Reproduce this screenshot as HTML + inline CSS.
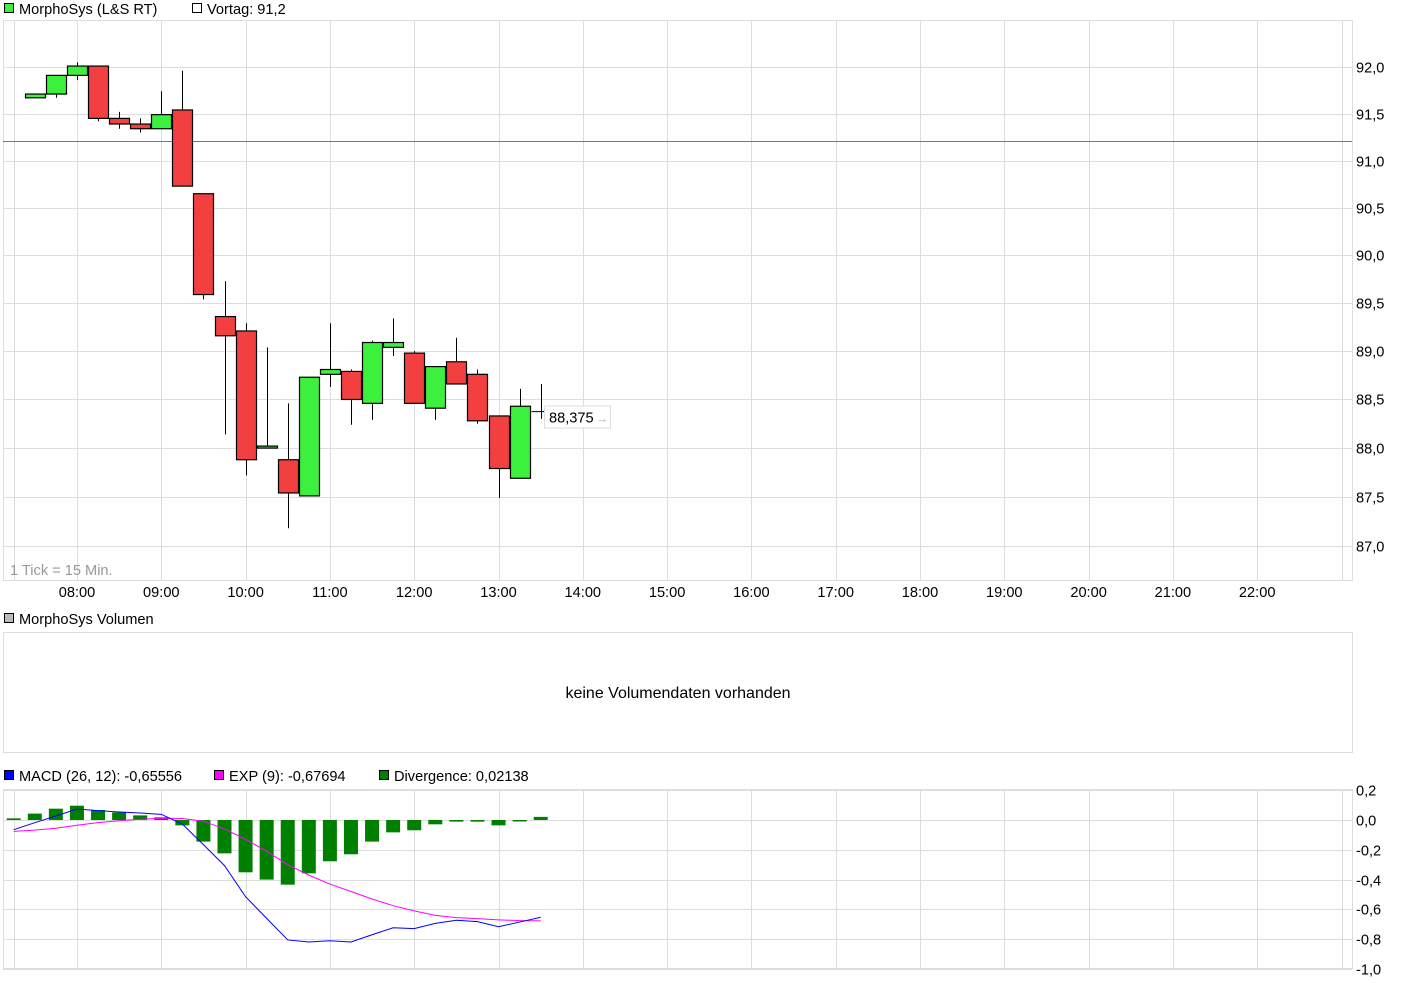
<!DOCTYPE html>
<html><head><meta charset="utf-8">
<style>
html,body{margin:0;padding:0;background:#fff;}
svg{display:block;font-family:"Liberation Sans",Arial,sans-serif;}
</style></head>
<body>
<svg id="chart" width="1410" height="983" viewBox="0 0 1410 983" xmlns="http://www.w3.org/2000/svg">
  <g id="legend-main">
    <rect x="4.5" y="3.5" width="9" height="9" fill="#3ef03e" stroke="#000"/>
    <text x="19" y="14" font-size="14.6">MorphoSys (L&amp;S RT)</text>
    <rect x="192.5" y="3.5" width="9" height="9" fill="#fff" stroke="#000"/>
    <text x="207" y="14" font-size="14.6">Vortag: 91,2</text>
  </g>
  <g id="main"></g>
  <g id="vol">
    <rect x="4.5" y="613.5" width="9" height="9" fill="#bbb" stroke="#000"/>
    <text x="19" y="624" font-size="14.6">MorphoSys Volumen</text>
    <rect x="3.5" y="632.5" width="1349" height="120" fill="none" stroke="#ddd"/>
    <text x="678" y="698" font-size="16" text-anchor="middle">keine Volumendaten vorhanden</text>
  </g>
  <g id="macdLegend">
    <rect x="4.5" y="770.5" width="9" height="9" fill="#0000ff" stroke="#000"/>
    <text x="19" y="781" font-size="14.6">MACD (26, 12): -0,65556</text>
    <rect x="214.5" y="770.5" width="9" height="9" fill="#ff00ff" stroke="#000"/>
    <text x="229" y="781" font-size="14.6">EXP (9): -0,67694</text>
    <rect x="379.5" y="770.5" width="9" height="9" fill="#008000" stroke="#000"/>
    <text x="394" y="781" font-size="14.6">Divergence: 0,02138</text>
  </g>
  <g id="macd"></g>
</svg>
<script>
// ---- data ----
const hourLabels = ["08:00","09:00","10:00","11:00","12:00","13:00","14:00","15:00","16:00","17:00","18:00","19:00","20:00","21:00","22:00"];
const priceTicks = [92.0,91.5,91.0,90.5,90.0,89.5,89.0,88.5,88.0,87.5,87.0];
const candleOpen  = [91.67,91.71,91.91,92.01,91.45,91.39,91.34,91.54,90.65,89.36,89.21,88.00,87.88,87.51,88.76,88.79,88.46,89.04,88.98,88.41,88.89,88.76,88.33,87.69,88.375];
const candleClose = [91.71,91.91,92.01,91.45,91.39,91.34,91.49,90.73,89.59,89.16,87.88,88.02,87.54,88.73,88.81,88.50,89.09,89.09,88.46,88.84,88.66,88.28,87.79,88.43,88.375];
const candleHigh  = [91.71,91.91,92.05,92.01,91.52,91.45,91.74,91.96,90.65,89.73,89.29,89.04,88.46,88.73,89.29,88.81,89.11,89.34,89.00,88.84,89.14,88.81,88.33,88.61,88.66];
const candleLow   = [91.67,91.67,91.86,91.42,91.34,91.30,91.34,90.73,89.54,88.14,87.72,88.00,87.18,87.51,88.63,88.24,88.29,88.95,88.46,88.29,88.66,88.25,87.49,87.69,88.30];
const prevClose = 91.2;
const lastPrice = "88,375";
const macdTicks = [0.2,0.0,-0.2,-0.4,-0.6,-0.8,-1.0];
const macdTickLabels = ["0,2","0,0","-0,2","-0,4","-0,6","-0,8","-1,0"];
const divergence = [0.011,0.043,0.076,0.096,0.067,0.051,0.031,0.018,-0.036,-0.145,-0.224,-0.351,-0.40,-0.434,-0.358,-0.277,-0.230,-0.145,-0.083,-0.069,-0.029,-0.011,-0.011,-0.036,-0.003,0.021];
const macdLine = [-0.065,-0.018,0.027,0.074,0.063,0.054,0.047,0.038,-0.027,-0.165,-0.306,-0.515,-0.66,-0.805,-0.819,-0.810,-0.819,-0.77,-0.723,-0.729,-0.694,-0.673,-0.682,-0.716,-0.685,-0.653];
const expLine = [-0.076,-0.068,-0.055,-0.035,-0.018,-0.005,0.005,0.012,0.010,-0.008,-0.06,-0.13,-0.21,-0.30,-0.37,-0.43,-0.48,-0.53,-0.575,-0.61,-0.64,-0.655,-0.662,-0.67,-0.675,-0.677];

// ---- scales ----
const NS="http://www.w3.org/2000/svg";
const X0=3, X1=1352;
const hourX = h => 77 + 84.3*h;
const slotX = i => 34.8 + 21.08*i;
const macdX = i => 13.7 + 21.08*i;
const lnTop=Math.log(92), lnBot=Math.log(87);
const priceY = p => 67 + (lnTop-Math.log(p))/(lnTop-lnBot)*479;
const macdY = v => 820 - v*149;
function mk(parent,tag,attrs){const e=document.createElementNS(NS,tag);for(const k in attrs)e.setAttribute(k,attrs[k]);parent.appendChild(e);return e;}

// ---- main panel ----
const main=document.getElementById('main');
const g1=mk(main,'g',{});


[-0.75,0,1,2,3,4,5,6,7,8,9,10,11,12,13,14,15].forEach(h=>{
  const x=Math.round(hourX(h))+0.5;
  const l=mk(g1,'line',{x1:x,x2:x,y1:20,y2:581,stroke:'#ddd'});
  
  
});
priceTicks.forEach((p,i)=>{
  const y=Math.round(priceY(p))+0.5;
  const l=mk(g1,'line',{x1:X0,x2:X1,y1:y,y2:y,stroke:'#ddd'});
  
  
  const t=mk(main,'text',{x:1356,y:y+5,'font-size':14.6});
  t.textContent=p.toFixed(1).replace('.',',');
  
  
});
const frame=mk(main,'rect',{x:3.5,y:20.5,width:1349,height:560,fill:'none',stroke:'#ddd'});


hourLabels.forEach((s,i)=>{
  const t=mk(main,'text',{x:hourX(i),y:597,'font-size':14.6,'text-anchor':'middle'});
  t.textContent=s;
  
  
});
const tick=mk(main,'text',{x:10,y:575,'font-size':14.6,fill:'#999'});
tick.textContent='1 Tick = 15 Min.';


const vy=Math.round(priceY(prevClose))-0.5;
const vl=mk(main,'line',{x1:X0,x2:X1,y1:vy,y2:vy,stroke:'#777'});


candleOpen.forEach((o,i)=>{
  const c=candleClose[i], cx=Math.round(slotX(i))+0.5;
  const g=mk(main,'g',{});
  
  
  mk(g,'line',{x1:cx,x2:cx,y1:priceY(candleHigh[i]),y2:priceY(candleLow[i]),stroke:'#000'});
  const top=priceY(Math.max(o,c)), bot=priceY(Math.min(o,c));
  if(Math.abs(o-c)<0.005){
    mk(g,'line',{x1:cx-10,x2:cx+10,y1:top,y2:top,stroke:'#000'});
  } else {
    mk(g,'rect',{x:cx-10,y:top,width:20,height:Math.max(bot-top,2),fill:c>=o?'#3ef03e':'#f24040',stroke:'#000','stroke-width':1.2});
  }
});
const ly=priceY(candleClose[candleClose.length-1])+6;
const lastG=mk(main,'g',{});


mk(lastG,'rect',{x:544.5,y:ly-11.5,width:66,height:22,fill:'#fff',stroke:'#ddd'});
const lt=mk(lastG,'text',{x:549,y:ly+5,'font-size':14.6});
lt.textContent=lastPrice;
mk(lastG,'text',{x:596,y:ly+5,'font-size':12,fill:'#aaa'}).textContent='→';

// ---- MACD panel ----
const macd=document.getElementById('macd');
const g2=mk(macd,'g',{});


[-0.75,0,1,2,3,4,5,6,7,8,9,10,11,12,13,14,15].forEach(h=>{
  const x=Math.round(hourX(h))+0.5;
  const l=mk(g2,'line',{x1:x,x2:x,y1:789,y2:968,stroke:'#ddd'});
  
  
});
macdTicks.forEach((v,i)=>{
  const y=Math.round(macdY(v))+0.5;
  const l=mk(g2,'line',{x1:X0,x2:X1,y1:y,y2:y,stroke:'#ddd'});
  
  
  const t=mk(macd,'text',{x:1356,y:y+5,'font-size':14.6});
  t.textContent=macdTickLabels[i];
  
  
});
const f2=mk(macd,'rect',{x:3.5,y:789.5,width:1349,height:179,fill:'none',stroke:'#ddd'});


divergence.forEach((v,i)=>{
  const y0=macdY(0), y1=macdY(v);
  const b=mk(macd,'rect',{x:macdX(i)-7,y:Math.min(y0,y1),width:14,height:Math.max(Math.abs(y1-y0),1.5),fill:'#008000'});
  
  
});
const pe=mk(macd,'polyline',{points:expLine.map((v,i)=>macdX(i)+','+macdY(v)).join(' '),fill:'none',stroke:'#ff00ff','stroke-width':1});


const pm=mk(macd,'polyline',{points:macdLine.map((v,i)=>macdX(i)+','+macdY(v)).join(' '),fill:'none',stroke:'#0000ff','stroke-width':1});


</script>
</body></html>
